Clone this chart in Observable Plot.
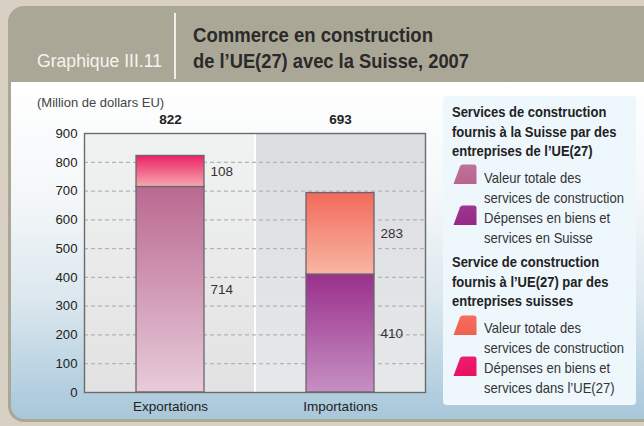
<!DOCTYPE html>
<html>
<head>
<meta charset="utf-8">
<script src="https://cdn.jsdelivr.net/npm/d3@7"></script>
<script src="https://cdn.jsdelivr.net/npm/@observablehq/plot@0.6"></script>
<style>
  html, body { margin: 0; padding: 0; }
  body { width: 644px; height: 426px; background: #d7d0c3; position: relative; overflow: hidden;
         font-family: 'Liberation Sans', Arial, sans-serif; }
  #card { position: absolute; left: 8px; top: 6px; width: 660px; height: 416px; border-radius: 16px 0 0 16px; background: #aba797; }
  #content { position: absolute; left: 3px; top: 76px; right: 0; bottom: 3px; border-radius: 0 0 0 13px;
             background: linear-gradient(to bottom, #ffffff 0%, #f4f7f9 35%, #dbe7ee 65%, #bcd5e3 85%, #a8c7d9 100%); }
  .fit { position: absolute; white-space: nowrap; display: inline-block; transform-origin: 0 0; }
  #gnum { left: 37px; top: 51px; font-size: 18px; line-height: 20px; color: #f5f4ee; }
  #sep { position: absolute; left: 174px; top: 13px; width: 1.5px; height: 66px; background: #f0eee8; }
  .title { left: 193px; font-size: 20.5px; line-height: 26px; font-weight: bold; color: #2a2a2a; }
  #unit { position: absolute; left: 37px; top: 95px; font-size: 13px; line-height: 16px; color: #444; white-space: nowrap; }
  #chart { position: absolute; left: 0; top: 100px; }
  #legend { position: absolute; left: 443px; top: 96px; width: 193px; height: 309px; background: #eef7fc; border-radius: 4px; }
  #legend .h { position: absolute; left: 9px; font-weight: bold; font-size: 15px; line-height: 19.6px; color: #222; white-space: nowrap; transform: scaleX(0.865); transform-origin: 0 0; }
  #legend .t { position: absolute; left: 41px; font-size: 15px; line-height: 19.8px; color: #333; white-space: nowrap; transform: scaleX(0.87); transform-origin: 0 0; }
  #legend svg.sw { position: absolute; left: 10px; width: 24px; height: 20px; }
  g[aria-label^="x-axis"] text { font-size: 13.5px; }
  g[aria-label^="y-axis"] text { font-size: 13.2px; }
</style>
</head>
<body>
<div id="card"><div id="content"></div></div>
<div id="gnum" class="fit">Graphique III.11</div>
<div id="sep"></div>
<div id="t1" class="fit title" style="top:22px">Commerce en construction</div>
<div id="t2" class="fit title" style="top:48px">de l’UE(27) avec la Suisse, 2007</div>
<div id="unit">(Million de dollars EU)</div>
<div id="chart"></div>
<div id="legend"></div>
<script>
// ---- data ----
const categories = ["Exportations", "Importations"];
const bottomValues = [714, 410];   // lower segments
const topValues = [108, 283];      // upper segments
const yTicks = [0, 100, 200, 300, 400, 500, 600, 700, 800, 900];
const gridValues = [100, 200, 300, 400, 500, 600, 700, 800];
const legendHeadings = [
  "Services de construction<br>fournis à la Suisse par des<br>entreprises de l’UE(27)",
  "Service de construction<br>fournis à l’UE(27) par des<br>entreprises suisses"
];
const legendItems = [
  "Valeur totale des<br>services de construction",
  "Dépenses en biens et<br>services en Suisse",
  "Valeur totale des<br>services de construction",
  "Dépenses en biens et<br>services dans l’UE(27)"
];

// ---- header text fitting (condensed look) ----
function fit(id, target) {
  const el = document.getElementById(id);
  const w = el.getBoundingClientRect().width;
  el.style.transform = `scaleX(${target / w})`;
}
fit("gnum", 125);
fit("t1", 240);
fit("t2", 276);

// ---- derived table ----
const rows = [];
categories.forEach((c, i) => {
  rows.push({cat: c, seg: "bottom", idx: i, value: bottomValues[i]});
  rows.push({cat: c, seg: "top", idx: i, value: topValues[i]});
});
const totals = categories.map((c, i) => bottomValues[i] + topValues[i]);

const FONT = "'Liberation Sans', Arial, sans-serif";
const gradIds = [["gExpB", "gExpT"], ["gImpB", "gImpT"]];

const chart = Plot.plot({
  width: 440, height: 320,
  marginLeft: 84, marginRight: 15, marginTop: 33, marginBottom: 28,
  x: {domain: categories, padding: 0, label: null, tickSize: 0, tickPadding: 9},
  y: {domain: [0, 900], ticks: yTicks, tickSize: 0, tickPadding: 7, label: null},
  color: {type: "identity"},
  style: {background: "transparent", fontFamily: FONT, fontSize: "13px", color: "#222", overflow: "visible"},
  marks: [
    Plot.frame({fill: "#ffffff"}),
    Plot.barY(categories.slice(0, 1), {x: d => d, y1: 0, y2: 900, fill: "url(#gPanL)", insetRight: 1}),
    Plot.barY(categories.slice(1), {x: d => d, y1: 0, y2: 900, fill: "url(#gPanR)", insetLeft: 1}),
    Plot.ruleY(gridValues, {stroke: "#b4b4b4", strokeWidth: 1.2, strokeDasharray: "4,3"}),
    Plot.barY(rows, {x: "cat", y: "value", fill: d => `url(#${gradIds[d.idx][d.seg === "bottom" ? 0 : 1]})`,
      insetLeft: 51, insetRight: 51, stroke: "#6a6570", strokeWidth: 1.3}),
    Plot.text(rows, Plot.stackY({x: "cat", y: "value", text: d => String(d.value), dx: 40, textAnchor: "start", fontSize: 13.5, fill: "#333"})),
    Plot.text(categories, {x: d => d, y: 900, dy: -14, text: (d, i) => String(totals[i]), fontWeight: "bold", fontSize: 13.5, fill: "#222"}),
    Plot.frame({stroke: "#6b6b6b", strokeWidth: 1.4})
  ]
});

const svgEl = chart.tagName.toLowerCase() === "svg" ? chart : chart.querySelector("svg");
const defs = d3.select(svgEl).insert("defs", ":first-child");
function grad(id, c1, c2) {
  const g = defs.append("linearGradient").attr("id", id).attr("x1", 0).attr("y1", 0).attr("x2", 0).attr("y2", 1);
  g.append("stop").attr("offset", "0%").attr("stop-color", c1);
  g.append("stop").attr("offset", "100%").attr("stop-color", c2);
}
grad("gExpB", "#ba6990", "#e8cbda");
grad("gExpT", "#ec2266", "#f5a8ae");
grad("gImpB", "#9a308b", "#c68fc3");
grad("gImpT", "#f26a5b", "#f9b6a3");
grad("gPanL", "#f1f2f2", "#e2e2e3");
grad("gPanR", "#dcdde0", "#e7e8ea");
document.getElementById("chart").appendChild(chart);

// ---- legend ----
const legend = document.getElementById("legend");
const swatchColors = [["#c0739a", "#b8648e"], ["#9d3591", "#922a86"], ["#f46e5d", "#f1604f"], ["#ef1d6d", "#e8115f"]];
const headingTops = [6, 156];
const itemTops = [72, 112, 222, 262];
const swatchTops = [68, 109, 219, 260];
legendHeadings.forEach((h, i) => {
  const d = document.createElement("div"); d.className = "h"; d.style.top = headingTops[i] + "px"; d.innerHTML = h; legend.appendChild(d);
});
legendItems.forEach((t, i) => {
  const s = document.createElementNS("http://www.w3.org/2000/svg", "svg");
  s.setAttribute("class", "sw"); s.setAttribute("viewBox", "0 0 24 20"); s.style.top = swatchTops[i] + "px";
  s.innerHTML = `<defs><linearGradient id="sw${i}" x1="0" y1="0" x2="0" y2="1"><stop offset="0" stop-color="${swatchColors[i][0]}"/><stop offset="1" stop-color="${swatchColors[i][1]}"/></linearGradient></defs>
    <path d="M0.5,20 L7,2.2 Q7.8,0.5 10,0.5 L21,0.5 Q23.5,0.5 23.5,3 L23.5,20 Z" fill="url(#sw${i})"/>`;
  legend.appendChild(s);
  const d = document.createElement("div"); d.className = "t"; d.style.top = itemTops[i] + "px"; d.innerHTML = t; legend.appendChild(d);
});
</script>
</body>
</html>
